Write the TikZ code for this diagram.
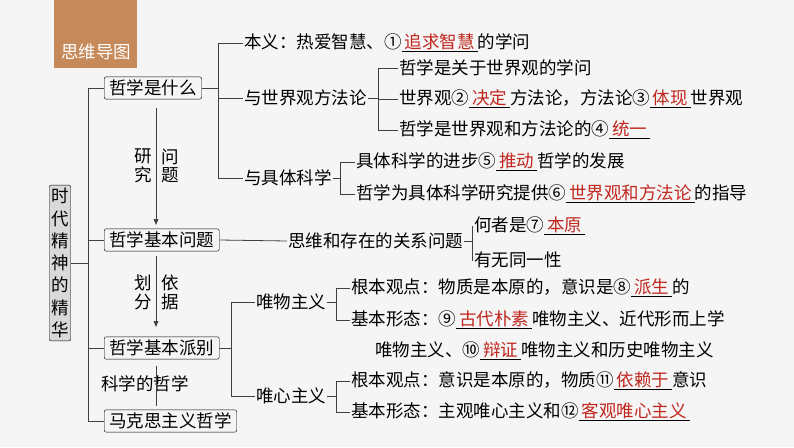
\documentclass[tikz,border=0pt]{standalone}
\usepackage{fontspec}
\setmainfont{Noto Sans CJK SC}
\definecolor{ansred}{HTML}{C0261E}
\definecolor{titlebrown}{HTML}{C68A5A}
\newcommand{\ans}[1]{\underline{\,\textcolor{ansred}{#1}\,}}
\newcommand{\downtip}[2]{\fill[black!75] (#1,#2) -- (#1-2.5,#2-6) -- (#1+2.5,#2-6) -- cycle;}
\tikzset{
  txt/.style={anchor=west,inner sep=1pt,font=\fontsize{17.5}{21}\selectfont},
  box/.style={draw,rounded corners=2pt,inner xsep=5pt,inner ysep=3pt,font=\fontsize{17.5}{21}\selectfont},
  lnk/.style={draw=black!75,line width=0.8pt}
}
\begin{document}
\begin{tikzpicture}[x=1pt,y=-1pt]
    \useasboundingbox[fill=white!96!black] (0,0) rectangle (794,447);
    \fill[titlebrown] (54,0) rectangle (137,68);
    \node[text=white,font=\fontsize{17.5}{21}\selectfont] (title) at (96,52) {思维导图};
    % trunk
    \node[box,fill=black!15,inner xsep=2pt,align=center,font=\fontsize{17.5}{22.3}\selectfont] (root) at (60,263) {时\\代\\精\\神\\的\\精\\华};
    \node[box,anchor=west] (what) at (104,88) {哲学是什么};
    \node[box,anchor=west] (basic) at (104,240) {哲学基本问题};
    \node[box,anchor=west] (school) at (104,348) {哲学基本派别};
    \node[box,anchor=west] (marx) at (104,421) {马克思主义哲学};
    \draw[lnk] (root.east) -- +(17,0) coordinate (rb);
    \draw[lnk] (what.west) -| (rb) |- (marx.west);
    \draw[lnk] (rb) |- (basic.west);
    \draw[lnk] (rb) |- (school.west);
    \node[txt] (yj) at (133,166) {\shortstack{研\\究}};
    \node[txt] (wt) at (160,166) {\shortstack{问\\题}};
    \node[txt] (hf) at (133,292) {\shortstack{划\\分}};
    \node[txt] (yjb) at (160,292) {\shortstack{依\\据}};
    \node[txt,inner sep=0pt] (kx) at (101,384) {科学的哲学};
    \draw[lnk] (156,108) -- (156,222);
    \downtip{156}{225}
    \draw[lnk] (156,256) -- (156,324);
    \downtip{156}{327}
    \draw[lnk] (156,366) -- (156,406);
    % 哲学是什么
    \node[txt] (by) at (243,43) {本义：热爱智慧、①\ans{追求智慧}的学问};
    \node[txt] (sjg) at (243,98) {与世界观方法论};
    \node[txt] (jt) at (243,178) {与具体科学};
    \draw[lnk] (what.east) -- +(16,0) coordinate (wb);
    \draw[lnk] (by.west) -| (wb) |- (jt.west);
    \draw[lnk] (wb) |- (sjg.west);
    \node[txt] (s1) at (398,68) {哲学是关于世界观的学问};
    \node[txt] (s2) at (398,99) {世界观②\ans{决定}方法论，方法论③\ans{体现}世界观};
    \node[txt] (s3) at (398,130) {哲学是世界观和方法论的④\ans{统一}};
    \draw[lnk] (sjg.east) -- +(10,0) coordinate (sb);
    \draw[lnk] (s1.west) -| (sb) |- (s3.west);
    \draw[lnk] (sb) |- (s2.west);
    \node[txt] (j1) at (355,162) {具体科学的进步⑤\ans{推动}哲学的发展};
    \node[txt] (j2) at (355,194) {哲学为具体科学研究提供⑥\ans{世界观和方法论}的指导};
    \draw[lnk] (jt.east) -- +(7,0) coordinate (jb);
    \draw[lnk] (j1.west) -| (jb) |- (j2.west);
    % 哲学基本问题
    \node[txt] (sw) at (287,241) {思维和存在的关系问题};
    \draw[lnk] (basic.east) -- (sw.west);
    \node[txt] (h1) at (473,226) {何者是⑦\ans{本原}};
    \node[txt] (h2) at (473,260) {有无同一性};
    \draw[lnk] (sw.east) -- +(8,0) coordinate (hb);
    \draw[lnk] (h1.west) -| (hb) |- (h2.west);
    % 哲学基本派别
    \node[txt] (ww) at (255,302) {唯物主义};
    \node[txt] (wx) at (255,396) {唯心主义};
    \draw[lnk] (school.east) -- +(12,0) coordinate (pb);
    \draw[lnk] (ww.west) -| (pb) |- (wx.west);
    \node[txt] (w1) at (350,288) {根本观点：物质是本原的，意识是⑧\ans{派生}的};
    \node[txt] (w2) at (350,320) {基本形态：⑨\ans{古代朴素}唯物主义、近代形而上学};
    \node[txt] (w3) at (374,351) {唯物主义、⑩\ans{辩证}唯物主义和历史唯物主义};
    \draw[lnk] (ww.east) -- +(9,0) coordinate (wwb);
    \draw[lnk] (w1.west) -| (wwb) |- (w2.west);
    \node[txt] (x1) at (350,381) {根本观点：意识是本原的，物质⑪\ans{依赖于}意识};
    \node[txt] (x2) at (350,412) {基本形态：主观唯心主义和⑫\ans{客观唯心主义}};
    \draw[lnk] (wx.east) -- +(9,0) coordinate (wxb);
    \draw[lnk] (x1.west) -| (wxb) |- (x2.west);
\end{tikzpicture}
\end{document}
